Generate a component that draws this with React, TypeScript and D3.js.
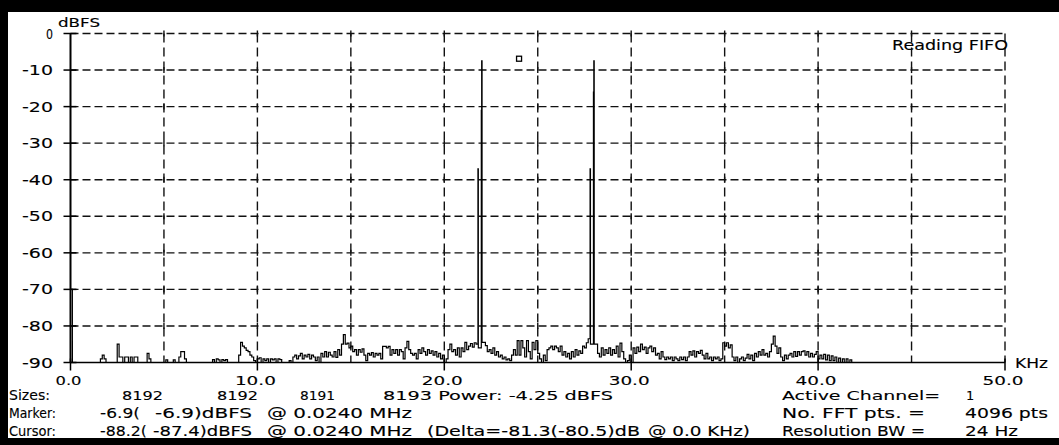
import React from "react";
import * as d3 from "d3";

// spectrum, one value per 0.1 kHz from 0.0 to 42.0 kHz (dBFS)
const noiseDb: number[] = [
  // 0
  -70, -90, -90, -90, -90, -90, -90, -90, -90, -90,
  // 1
  -90, -90, -90, -90, -90, -90, -89, -88, -89, -90,
  // 2
  -90, -90, -90, -90, -90, -85, -88.5, -88.5, -90, -88.5,
  // 3
  -88.5, -90, -88.5, -90, -88.5, -88.5, -90, -90, -90, -90,
  // 4
  -90, -87.5, -89, -90, -90, -90, -90, -90, -90, -90,
  // 5
  -90, -89.3, -90, -90, -90, -89.3, -90, -90, -88.5, -87,
  // 6
  -87, -89, -90, -90, -90, -90, -90, -90, -90, -90,
  // 7
  -90, -90, -90, -90, -90, -90, -89.2, -90, -89, -89.3,
  // 8
  -90, -89.2, -89.5, -89.2, -90, -90, -90, -90, -90, -90,
  // 9
  -88, -84.5, -85.5, -86, -86.7, -87, -88, -88.5, -89.5, -90,
  // 10
  -89, -88.7, -90, -89, -89.5, -89, -90, -89, -89.3, -89,
  // 11
  -90, -89, -89.2, -90, -90, -90, -90, -89.5, -90, -88.5,
  // 12
  -88, -89, -88.2, -87.5, -89, -88, -88.5, -87.8, -89, -88,
  // 13
  -88.5, -89.5, -88.5, -90, -87.5, -88.5, -87, -88.5, -87.2, -88,
  // 14
  -88.5, -87, -88.6, -86.5, -88, -85, -82.4, -85, -84.7, -86,
  // 15
  -85.5, -87, -86.5, -88, -86.5, -87.2, -86.3, -88, -89.5, -87.5,
  // 16
  -88, -87.3, -88.5, -87.5, -88, -87.5, -89, -85.6, -85.6, -86,
  // 17
  -85.6, -88, -86.5, -87.5, -86.5, -88, -86.5, -87, -89, -86,
  // 18
  -84.2, -86.5, -87.5, -88, -87.5, -89, -86.5, -87.5, -86, -87,
  // 19
  -88, -86.5, -87.5, -86.8, -88, -87, -88.5, -87.5, -89, -88,
  // 20
  -90, -89, -86.5, -85, -87, -86.5, -88, -86, -88.5, -86,
  // 21
  -87, -84.5, -86.5, -85.5, -84.8, -85.8, -84.6, -85, -37, -86,
  // 22
  -7.5, -84.5, -85.4, -87, -86.5, -87.5, -86, -88, -87, -88.5,
  // 23
  -88, -89, -88.5, -89.3, -89, -89.5, -88, -86.5, -88, -84,
  // 24
  -88, -84, -86, -88.5, -84, -87, -89, -84.5, -86.5, -84,
  // 25
  -87.5, -89, -90, -88, -89.5, -86.5, -86, -85.5, -86.5, -85.5,
  // 26
  -86, -87, -85.5, -88, -87, -88.5, -87.5, -89, -87, -88.5,
  // 27
  -86.5, -88, -86.8, -87.5, -85.5, -86, -84.6, -83.5, -37, -85,
  // 28
  -7.5, -85, -87.5, -88.5, -86, -88, -86.5, -87.5, -86, -88,
  // 29
  -86.5, -87.5, -85.5, -88.5, -84.7, -87, -89, -90, -89.5, -88,
  // 30
  -90, -86, -87.5, -85.8, -87, -85, -86.5, -85.8, -87.5, -86,
  // 31
  -85.5, -87, -86, -88, -87.5, -89, -87, -88.5, -89.2, -88.5,
  // 32
  -89, -88.5, -89.5, -88.5, -89, -89.5, -88.5, -89.2, -88.5, -89.5,
  // 33
  -88.5, -87, -88, -86.8, -88.5, -87, -87.5, -86.7, -88, -89,
  // 34
  -87.5, -89, -88.5, -89.5, -88.5, -89, -88.5, -89.5, -89, -84.6,
  // 35
  -85.5, -84.6, -86, -85.2, -88.5, -89.5, -88.5, -90, -89, -88.5,
  // 36
  -89.5, -88.8, -87.8, -89, -88, -89.5, -87.5, -88.5, -87, -88,
  // 37
  -86.5, -88, -87.5, -88.5, -87, -85, -82.8, -85.5, -87.5, -86,
  // 38
  -88.5, -89.5, -88, -89, -88, -87.5, -88.5, -87, -88.3, -87,
  // 39
  -88, -87, -86.8, -88, -87, -88.5, -87.5, -88.5, -87.8, -87,
  // 40
  -89, -88, -89, -87.8, -89.3, -88, -89.5, -88.2, -89.5, -88.5,
  // 41
  -90, -88.8, -90, -89, -90, -89, -90, -89.3, -90, -90,
  // 42
  -90,
];
const freqStep = 0.1;

// extra bins around the two tones: they rise and fall almost straight
const toneBins: [number, number][] = [
  [21.82, -86],
  [21.98, -21],
  [22.02, -84.5],
  [27.82, -85],
  [27.98, -16],
  [28.02, -85],
];
const spanEnd: [number, number] = [50, -90];

const yTicks = [0, -10, -20, -30, -40, -50, -60, -70, -80, -90];
const xTicks = [0, 10, 20, 30, 40, 50];
const xGrid = [5, 10, 15, 20, 25, 30, 35, 40, 45, 50];
const marker: [number, number] = [24, -6.9];

const sizesVals = ["8192", "8192", "8191", "8193"];
const powerText = "Power: -4.25 dBFS";

const W = 1059;
const H = 445;
const FONT = "'DejaVu Sans', Verdana, sans-serif";

const T = ({ x, y, w, s = 13.5, anchor = "start", children }: any) => (
  <text
    x={x}
    y={y}
    fontSize={s}
    textAnchor={anchor}
    textLength={w}
    lengthAdjust={w ? "spacingAndGlyphs" : undefined}
  >
    {children}
  </text>
);

export default function App() {
  const x = d3.scaleLinear().domain([0, 50]).range([70.5, 1005]);
  const y = d3.scaleLinear().domain([0, -90]).range([33.5, 362.5]);

  const pts: [number, number][] = noiseDb
    .map((v, i) => [+(i * freqStep).toFixed(2), v] as [number, number])
    .concat(toneBins, [spanEnd])
    .sort((a, b) => a[0] - b[0]);

  const line = d3
    .line<[number, number]>()
    .x((d) => x(d[0]))
    .y((d) => y(d[1]))
    .curve(d3.curveStepAfter);

  const x0 = x(0);
  const yBase = y(-90);

  return (
    <svg
      width={W}
      height={H}
      style={{ position: "absolute", left: 0, top: 0, background: "#fff" }}
      fontFamily={FONT}
    >
      <rect width={W} height={H} fill="#fff" />
      {/* window frame */}
      <rect x={0} y={0} width={W} height={12} fill="#000" />
      <rect x={0} y={0} width={8} height={H} fill="#000" />
      <rect x={0} y={438} width={W} height={7} fill="#000" />

      {/* grid */}
      <g stroke="#111" strokeWidth={1.4} fill="none">
        {yTicks.slice(0, -1).map((t) => (
          <line key={t} x1={x0} x2={x(50)} y1={y(t)} y2={y(t)} strokeDasharray="8,4" />
        ))}
        {xGrid.map((g) => (
          <line key={g} x1={x(g)} x2={x(g)} y1={y(0)} y2={yBase} strokeDasharray="9,5" />
        ))}
        {xGrid.slice(0, -1).map((g) =>
          yTicks.slice(0, -1).map((t) => (
            <line key={g + "_" + t} x1={x(g)} x2={x(g)} y1={y(t) - 3} y2={y(t) + 3} />
          ))
        )}
      </g>

      {/* axes */}
      <g stroke="#000" fill="none">
        <line x1={x0} x2={x0} y1={y(0)} y2={yBase} strokeWidth={2} />
        <line x1={x0} x2={x(50)} y1={yBase} y2={yBase} strokeWidth={1.5} />
        {yTicks.map((t) => (
          <line key={t} x1={x0 - 7} x2={x0 + 6} y1={y(t)} y2={y(t)} strokeWidth={1.5} />
        ))}
        {xTicks.map((t) => (
          <line key={t} x1={x(t)} x2={x(t)} y1={yBase - 4} y2={yBase + 8} strokeWidth={1.5} />
        ))}
      </g>

      {/* spectrum */}
      <path d={line(pts) || ""} fill="none" stroke="#000" strokeWidth={1.2} />
      <rect
        x={x(marker[0]) - 2.5}
        y={y(marker[1]) - 2.5}
        width={5}
        height={5}
        fill="#fff"
        stroke="#000"
        strokeWidth={1.3}
      />

      {/* axis labels */}
      <g fill="#000" stroke="#000" strokeWidth={0.12}>
        {yTicks.map((t) => (
          <T key={t} x={53} y={y(t) + 5} w={t === 0 ? 7 : 31} anchor="end">
            {t === 0 ? "0" : String(t)}
          </T>
        ))}
        {xTicks.map((t) => (
          <T key={t} x={x(t) - 2} y={385} w={t === 0 ? 26 : 41} s={13} anchor="middle">
            {t.toFixed(1)}
          </T>
        ))}
        <T x={58} y={27} w={42} s={12}>dBFS</T>
        <T x={1015} y={368} w={33}>KHz</T>
        <T x={892} y={50} w={116}>Reading FIFO</T>

        {/* status lines */}
        <T x={9} y={400} w={41} s={13.5}>Sizes:</T>
        <T x={122} y={400} w={41} s={13}>{sizesVals[0]}</T>
        <T x={217} y={400} w={41} s={13}>{sizesVals[1]}</T>
        <T x={300} y={400} w={35} s={13}>{sizesVals[2]}</T>
        <T x={383} y={400} w={230} s={13}>{sizesVals[3] + " " + powerText}</T>
        <T x={782} y={400} w={158} s={13}>Active Channel=</T>
        <T x={966} y={400} s={13}>1</T>

        <T x={9} y={418} w={47}>Marker:</T>
        <T x={100} y={418} w={40}>-6.9(</T>
        <T x={155} y={418} w={97}>-6.9)dBFS</T>
        <T x={267} y={418} w={145}>@ 0.0240 MHz</T>
        <T x={782} y={418} w={143}>No. FFT pts. =</T>
        <T x={965} y={418} w={83}>4096 pts</T>

        <T x={9} y={436} w={47}>Cursor:</T>
        <T x={100} y={436} w={47}>-88.2(</T>
        <T x={153} y={436} w={99}>-87.4)dBFS</T>
        <T x={267} y={436} w={145}>@ 0.0240 MHz</T>
        <T x={427} y={436} w={213}>(Delta=-81.3(-80.5)dB</T>
        <T x={648} y={436} w={102}>@ 0.0 KHz)</T>
        <T x={782} y={436} w={143}>Resolution BW =</T>
        <T x={965} y={436} w={53}>24 Hz</T>
      </g>
    </svg>
  );
}
